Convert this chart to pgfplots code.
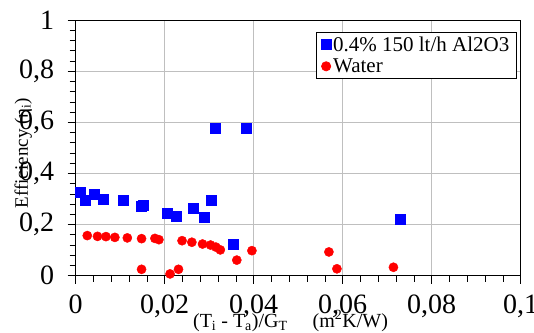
\documentclass[border=0pt]{standalone}
\usepackage{fontspec}
\setmainfont{Liberation Serif}
\usepackage{pgfplots}
\pgfplotsset{compat=1.18}
\begin{document}
\begin{tikzpicture}
\begin{axis}[
 scale only axis, width=445pt, height=255.5pt,
 xmin=0, xmax=0.1, ymin=0, ymax=1,
 xtick={0,0.02,0.04,0.06,0.08,0.1}, ytick={0,0.2,0.4,0.6,0.8,1},
 xticklabels={0,{0,02},{0,04},{0,06},{0,08},{0,1}},
 yticklabels={0,{0,2},{0,4},{0,6},{0,8},1},
 /pgf/number format/assume math mode=true,
 minor x tick num=4, minor y tick num=4,
 tick align=outside, xtick pos=bottom, ytick pos=left,
 major tick length=8pt, minor tick length=6pt,
 grid=major, major grid style={color=black!25, line width=1pt},
 axis line style={line width=1pt},
 every tick/.style={black, line width=0.8pt},
 tick label style={font=\fontsize{28}{30}\selectfont},
 xticklabel style={yshift=-8pt},
 yticklabel style={xshift=-10pt},
 xlabel={(T\textsubscript{i} - T\textsubscript{a})/G\textsubscript{T}\hspace{25pt}(m\textsuperscript{2}K/W)},
 xlabel style={at={(axis description cs:0.4827,-0.177)}, anchor=center, font=\fontsize{20}{22}\selectfont},
 ylabel={Efficiency (η\textsubscript{i})},
 ylabel style={at={(axis description cs:-0.118,0.48)}, anchor=center, font=\fontsize{19}{21}\selectfont},
 legend style={at={(axis description cs:1,1)}, anchor=north east, xshift=-4pt, yshift=-12pt,
   draw=black, line width=0.8pt, font=\fontsize{21}{23}\selectfont, inner ysep=2pt, inner xsep=5pt,
   row sep=2pt, fill=white},
 legend cell align=left,
 legend image code/.code={\draw[#1] plot coordinates {(0pt,0pt)};},
]
\addplot[only marks, mark=square*, mark size=5pt, color=blue, mark options={draw=blue, fill=blue}] coordinates {
(0.0011,0.325) (0.0021,0.296) (0.0041,0.319) (0.0061,0.299) (0.0107,0.296)
(0.0147,0.273) (0.0152,0.276) (0.0206,0.244) (0.0225,0.231) (0.0313,0.577)
(0.0384,0.577) (0.0263,0.266) (0.0288,0.228) (0.0305,0.294) (0.0353,0.124)
(0.0729,0.223)
};
\addlegendentry{0.4\% 150 lt/h Al2O3}
\addplot[only marks, mark=*, mark size=4.6pt, color=red, mark options={draw=red, fill=red}] coordinates {
(0.0026,0.157) (0.0049,0.154) (0.0068,0.153) (0.0088,0.150) (0.0116,0.148)
(0.0148,0.145) (0.0148,0.025) (0.0178,0.146) (0.0187,0.141) (0.0212,0.007)
(0.0231,0.025) (0.0239,0.137) (0.0261,0.131) (0.0285,0.124) (0.0303,0.120)
(0.0315,0.112) (0.0325,0.101) (0.0362,0.061) (0.0396,0.098) (0.0569,0.093)
(0.0587,0.027) (0.0714,0.033)
};
\addlegendentry{Water}
\end{axis}
\pgfresetboundingbox
\useasboundingbox (current axis.south west) ++(-75.7pt,-56.3pt) rectangle ++(534pt,332pt);
\end{tikzpicture}
\end{document}
